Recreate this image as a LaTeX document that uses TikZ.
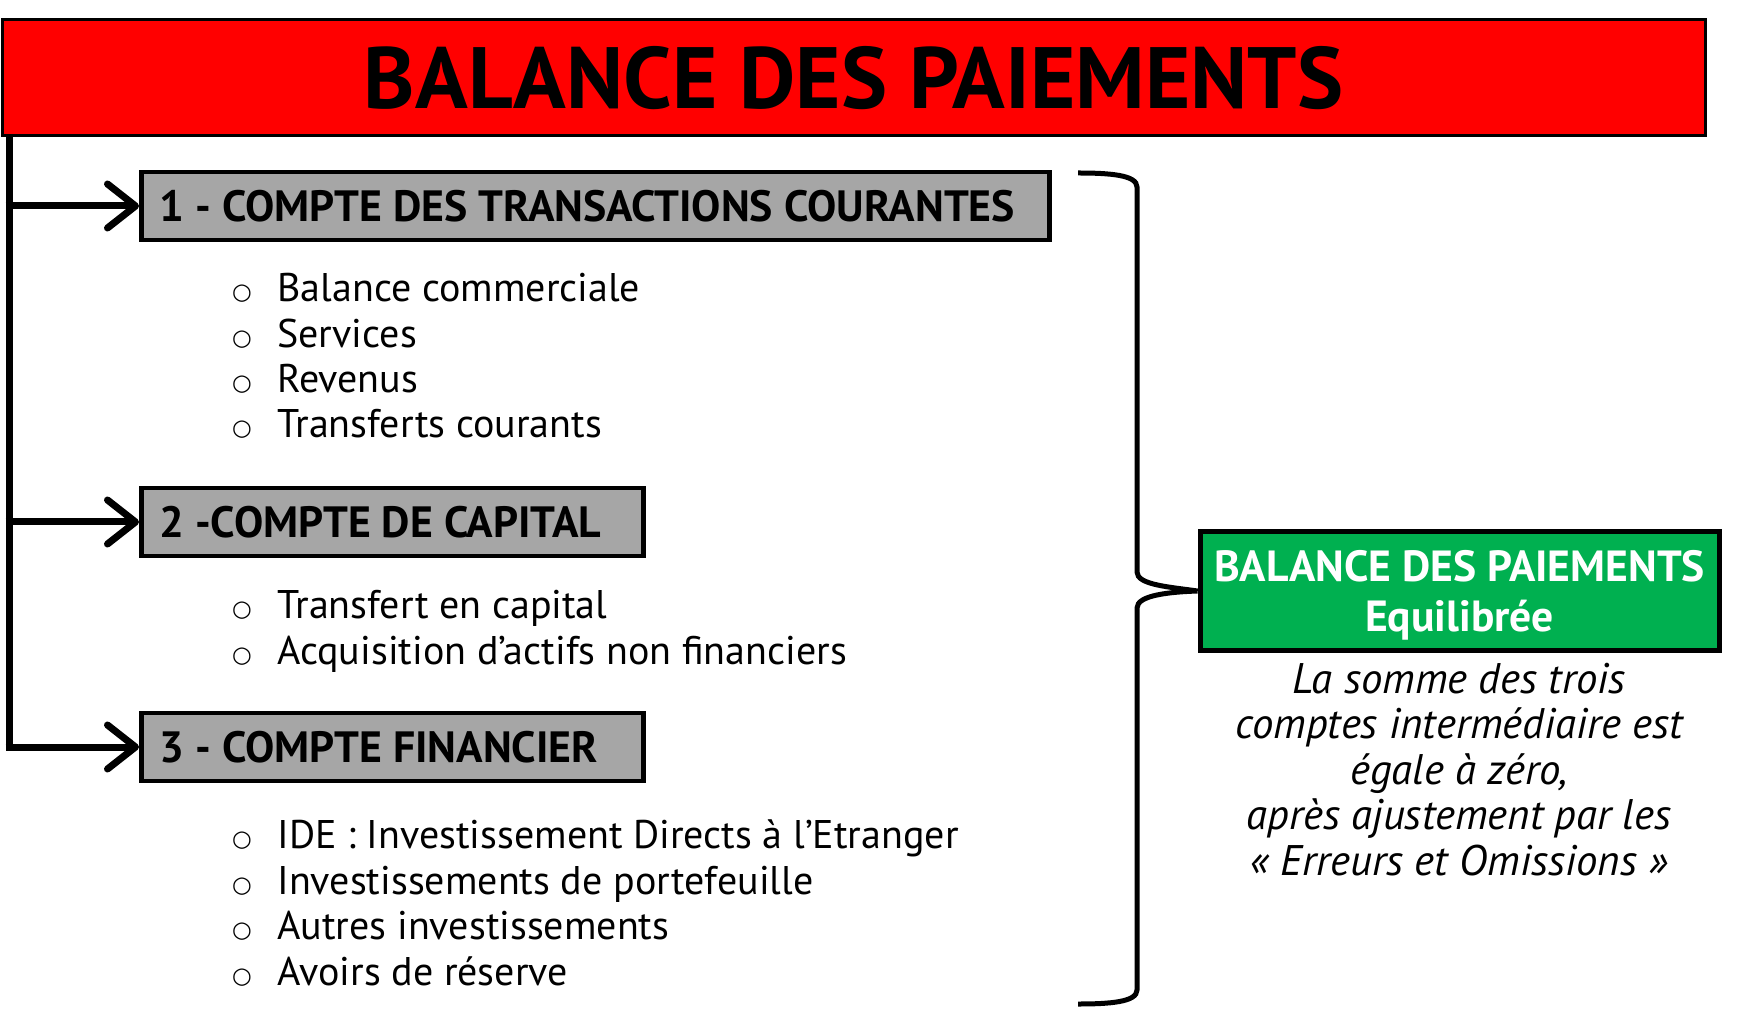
\documentclass[tikz,border=0pt]{standalone}
\usepackage{fontspec}
\setmainfont{PT Sans}
\newfontfamily\bulletfont{DejaVu Sans}
\usetikzlibrary{arrows.meta}
\definecolor{redbox}{HTML}{FF0000}
\definecolor{graybox}{HTML}{A6A6A6}
\definecolor{greenbox}{HTML}{00B050}
\newcommand{\bul}{\makebox[23pt][l]{\hspace{0.3pt}\raisebox{1pt}{\bulletfont\fontsize{11.3}{11.3}\selectfont ○}}}
\begin{document}
\begin{tikzpicture}[x=0.5pt,y=-0.5pt,
  titlebox/.style={draw, line width=1.5pt, fill=redbox, minimum width=851.5pt, minimum height=58pt, inner sep=0pt, font=\bfseries\fontsize{43.5}{50}\selectfont},
  acct/.style={draw, line width=2.3pt, fill=graybox, minimum height=34pt, inner xsep=9pt, inner ysep=0pt, font=\bfseries\fontsize{21.9}{26}\selectfont, anchor=west},
  items/.style={anchor=base west, inner sep=0pt, align=left, font=\fontsize{20}{22.7}\selectfont},
  feed/.style={line width=3.5pt, -{Straight Barb[length=14pt,width=22pt,round]}},
  trunk/.style={line width=3.5pt},
  brace/.style={line width=2.5pt},
  resbox/.style={draw, line width=2.5pt, fill=greenbox, minimum width=259.5pt, minimum height=59pt, inner sep=0pt, align=center, text=white, text depth=0pt, font=\bfseries\fontsize{21.8}{25.2}\selectfont},
  note/.style={anchor=base, inner sep=0pt, align=center, font=\itshape\fontsize{21.4}{22.75}\selectfont}
]
\useasboundingbox (0,0) rectangle (1739,1015);

\node[titlebox] (title) at (853.5,78) {BALANCE DES PAIEMENTS};

\node[acct] (b1) at (139,206) {\makebox[436pt][l]{1 - COMPTE DES TRANSACTIONS COURANTES}};
\node[acct] (b2) at (139,522) {\makebox[233pt][l]{2 -COMPTE DE CAPITAL}};
\node[acct] (b3) at (139,747) {\makebox[233pt][l]{3 - COMPTE FINANCIER}};

\node[items] (l1) at (231,438) {\bul Balance commerciale\\\bul Services\\\bul Revenus\\\bul Transferts courants};
\node[items] (l2) at (231,664) {\bul Transfert en capital\\\bul Acquisition d’actifs non financiers};
\node[items] (l3) at (231,985) {\bul IDE : Investissement Directs à l’Etranger\\\bul Investissements de portefeuille\\\bul Autres investissements\\\bul Avoirs de réserve};

\coordinate (t0) at (9,134);
\coordinate (t1) at (9,206);
\coordinate (t2) at (9,522);
\coordinate (t3) at (9,747);
\draw[trunk] (t0) -- ([yshift=-1.75pt]t3);
\draw[feed] ([xshift=-1.75pt]t1) -- (b1.west);
\draw[feed] ([xshift=-1.75pt]t2) -- (b2.west);
\draw[feed] ([xshift=-1.75pt]t3) -- (b3.west);

\node[resbox] (res) at (1459.5,591) {BALANCE DES PAIEMENTS\\Equilibrée};
\node[note] (txt) at (1459,875) {La somme des trois\\comptes intermédiaire est\\égale à zéro,\\après ajustement par les\\« Erreurs et Omissions »};

\coordinate (bt) at (1078,173);
\coordinate (bb) at (1078,1004);
\draw[brace] (bt) .. controls (1110,173) and (1137,175) .. (1137,187) -- (1137,572)
  .. controls (1137,585) and (1170,587) .. (res.west)
  .. controls (1170,592) and (1137,595) .. (1137,608) -- (1137,990)
  .. controls (1137,1002) and (1110,1004) .. (bb);
\end{tikzpicture}
\end{document}
